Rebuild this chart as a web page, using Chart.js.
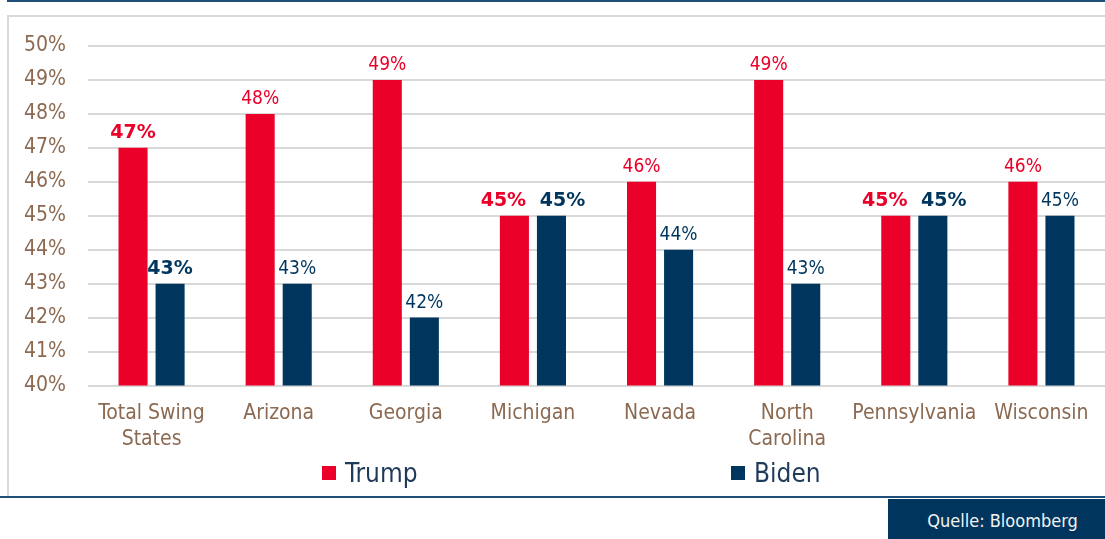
<!DOCTYPE html>
<html>
<head>
<meta charset="utf-8">
<script src="https://cdn.jsdelivr.net/npm/chart.js@4"></script>
<style>
  html, body { margin: 0; padding: 0; background: #fff; }
  #wrap { position: relative; width: 1105px; height: 539px; overflow: hidden; font-family: "DejaVu Sans Condensed", "DejaVu Sans", sans-serif; }
  #topline { position: absolute; left: 7px; top: 0; width: 1098px; height: 2px; background: #1f4e79; }
  #box { position: absolute; left: 7px; top: 15px; width: 1100px; height: 481px; border-left: 2px solid #d9d9d9; border-top: 2px solid #d9d9d9; box-sizing: border-box; }
  #botline { position: absolute; left: 0; top: 496px; width: 1105px; height: 2px; background: #1f4e79; }
  #source { position: absolute; left: 888px; top: 499px; width: 217px; height: 40px; background: #00365e; color: #f2f2f2; font-size: 18px; line-height: 44px; text-align: center; padding-left: 12px; box-sizing: border-box; }
  #chartBox { position: absolute; left: 0; top: 0; width: 1105px; height: 496px; }
  .leg { position: absolute; top: 458px; height: 30px; font-size: 26px; line-height: 30px; color: #1f3b5a; }
  .leg i { position: absolute; left: 0; top: 8px; width: 14px; height: 14px; }
  .leg span { position: absolute; left: 23px; top: 0; white-space: nowrap; }
</style>
</head>
<body>
<div id="wrap">
  <div id="topline"></div>
  <div id="box"></div>
  <div id="chartBox"><canvas id="chartSwing"></canvas></div>
  <div id="legend"></div>
  <div id="botline"></div>
  <div id="source">Quelle: Bloomberg</div>
</div>
<script>
// data dari gambar
const categories = [["Total Swing", "States"], "Arizona", "Georgia", "Michigan", "Nevada", ["North", "Carolina"], "Pennsylvania", "Wisconsin"];
const trump = [47, 48, 49, 45, 46, 49, 45, 46];
const biden = [43, 43, 42, 45, 44, 43, 45, 45];
const boldIdx = [0, 3, 6]; // label tebal
const yTicks = [40, 41, 42, 43, 44, 45, 46, 47, 48, 49, 50];

const RED = "#ea0029";
const NAVY = "#00365e";
const BROWN = "#8c6a52";
const FONT = '"DejaVu Sans Condensed", "DejaVu Sans", sans-serif';
const BOLDFONT = '"DejaVu Sans", sans-serif';

const valueLabels = {
  id: "valueLabels",
  afterDatasetsDraw(chart) {
    const ctx = chart.ctx;
    const sets = chart.data.datasets;
    ctx.save();
    ctx.textAlign = "center";
    ctx.textBaseline = "middle";
    sets.forEach((ds, i) => {
      const meta = chart.getDatasetMeta(i);
      meta.data.forEach((bar, j) => {
        const bold = boldIdx.includes(j);
        ctx.font = bold ? "bold 19px " + BOLDFONT : "19px " + FONT;
        ctx.fillStyle = ds.backgroundColor;
        // kalau nilainya sama, label digeser supaya tidak tabrakan
        let dx = 0;
        if (sets[0].data[j] === sets[1].data[j]) dx = i === 0 ? -11 : 11;
        ctx.fillText(ds.data[j] + "%", bar.x + dx, bar.y - 15);
      });
    });
    ctx.restore();
  }
};

// legenda HTML, posisi seperti di gambar
const htmlLegend = {
  id: "htmlLegend",
  afterUpdate(chart) {
    const box = document.getElementById("legend");
    const xs = [322, 731];
    box.innerHTML = "";
    chart.data.datasets.forEach((ds, i) => {
      const d = document.createElement("div");
      d.className = "leg";
      d.style.left = xs[i] + "px";
      d.innerHTML = '<i style="background:' + ds.backgroundColor + '"></i><span>' + ds.label + "</span>";
      box.appendChild(d);
    });
  }
};

document.addEventListener("DOMContentLoaded", () => {
  const ctx = document.getElementById("chartSwing");
  new Chart(ctx, {
    type: "bar",
    data: {
      labels: categories,
      datasets: [
        { label: "Trump", data: trump, backgroundColor: RED, categoryPercentage: 0.583, barPercentage: 0.784 },
        { label: "Biden", data: biden, backgroundColor: NAVY, categoryPercentage: 0.583, barPercentage: 0.784 }
      ]
    },
    options: {
      responsive: true,
      maintainAspectRatio: false,
      animation: false,
      layout: { padding: { top: 46, right: 0, left: 0, bottom: 28 } },
      scales: {
        y: {
          min: 40, max: 50,
          afterBuildTicks: (s) => { s.ticks = yTicks.map(v => ({ value: v })); },
          afterFit: (s) => { s.width = 88; },
          ticks: { color: BROWN, font: { family: FONT, size: 21 }, padding: 22, autoSkip: false, callback: v => v + "%" },
          grid: { color: "#d9d9d9", lineWidth: 2, drawTicks: false },
          border: { display: false }
        },
        x: {
          ticks: { color: BROWN, font: { family: FONT, size: 21, lineHeight: 1.25 }, padding: 15, maxRotation: 0, autoSkip: false },
          grid: { display: false, drawTicks: false },
          border: { display: false }
        }
      },
      plugins: {
        legend: { display: false },
        tooltip: { enabled: false }
      }
    },
    plugins: [valueLabels, htmlLegend]
  });
});
</script>
</body>
</html>
